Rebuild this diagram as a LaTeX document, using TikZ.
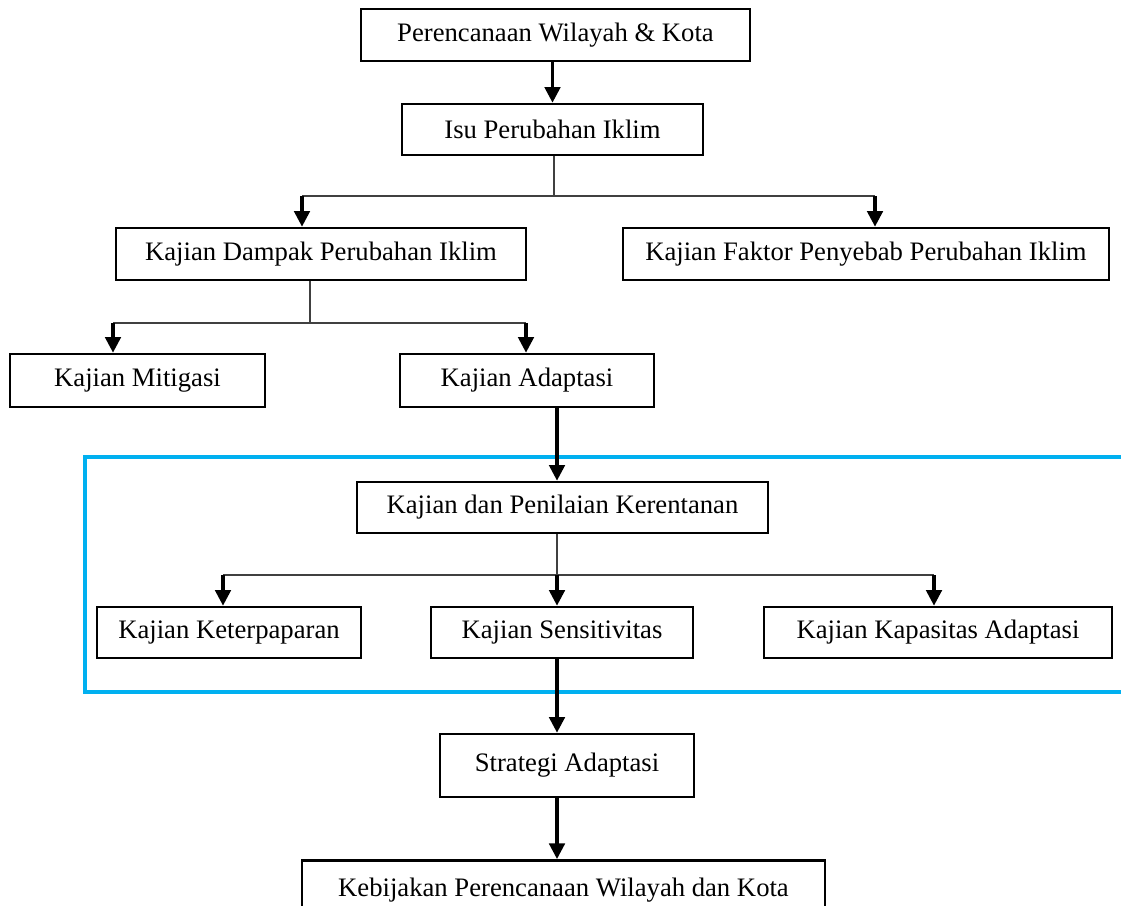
\documentclass[tikz,border=0pt]{standalone}
\usepackage{fontspec}
\setmainfont{Liberation Serif}
\usetikzlibrary{arrows.meta}
\definecolor{birumuda}{RGB}{0,176,240}
\tikzset{
	kotak/.style={draw, line width=1.2pt, inner sep=0pt, font=\fontsize{12}{14}\selectfont},
	ukuran/.style 2 args={minimum width={#1*0.45pt}, minimum height={#2*0.45pt}},
	panah/.style={line width=1.4pt, -{Triangle[length=7pt,width=7pt]}},
	cabang/.style={line width=0.5pt, draw=black!75},
}

\begin{document}
\begin{tikzpicture}[x=0.45pt, y=-0.45pt]
			%%%%% START %%%%%
			\useasboundingbox (0, 0) rectangle (1121, 906);
			
			% bingkai biru (kajian kerentanan)
			\draw[line width=1.4pt, color=birumuda] (1121, 457) -| (85, 692) -- (1121, 692);
			
			\node[kotak, ukuran={389}{52}] (wilkota) at (555.5, 35) {Perencanaan Wilayah \& Kota};
			\node[kotak, ukuran={301}{51}] (isu) at (552.5, 129.5) {Isu Perubahan Iklim};
			
			\node[kotak, ukuran={410}{52}] (dampak) at (321, 254) {Kajian Dampak Perubahan Iklim};
			\node[kotak, ukuran={486}{52}] (faktor) at (866, 254) {Kajian Faktor Penyebab Perubahan Iklim};
			
			\node[kotak, ukuran={255}{53}] (mitigasi) at (137.5, 380.5) {Kajian Mitigasi};
			\node[kotak, ukuran={254}{53}] (adaptasi) at (527, 380.5) {Kajian Adaptasi};
			
			\node[kotak, ukuran={411}{51}] (kerentanan) at (562.5, 507.5) {Kajian dan Penilaian Kerentanan};
			
			\node[kotak, ukuran={264}{51}] (paparan) at (229, 632.5) {Kajian Keterpaparan};
			\node[kotak, ukuran={262}{51}] (sensitif) at (562, 632.5) {Kajian Sensitivitas};
			\node[kotak, ukuran={348}{51}] (kapasitas) at (938, 632.5) {Kajian Kapasitas Adaptasi};
			
			\node[kotak, ukuran={254}{63}] (strategi) at (567, 765.5) {Strategi Adaptasi};
			\node[kotak, anchor=north, minimum width={523*0.45pt}, text height=16.2pt, text depth=10pt] (kebijakan) at (563.5, 859) {Kebijakan Perencanaan Wilayah dan Kota};
			
			% titik cabang
			\coordinate (c1) at (554, 196);
			\coordinate (c1a) at (302, 196);
			\coordinate (c1b) at (875, 196);
			\coordinate (c2) at (310, 323);
			\coordinate (c2a) at (113, 323);
			\coordinate (c2b) at (526, 323);
			\coordinate (c3) at (557, 575);
			\coordinate (c3a) at (223, 575);
			\coordinate (c3b) at (934, 575);
			
			\draw[panah] (isu.north |- wilkota.south) -- (isu.north);
			
			\draw[cabang] (c1 |- isu.south) -- (c1);
			\draw[cabang] (c1a) -- (c1b);
			\draw[panah] (c1a) -- (c1a |- dampak.north);
			\draw[panah] (c1b) -- (c1b |- faktor.north);
			
			\draw[cabang] (c2 |- dampak.south) -- (c2);
			\draw[cabang] (c2a) -- (c2b);
			\draw[panah] (c2a) -- (c2a |- mitigasi.north);
			\draw[panah] (c2b) -- (c2b |- adaptasi.north);
			
			\draw[panah] (c3 |- adaptasi.south) -- (c3 |- kerentanan.north);
			
			\draw[cabang] (c3 |- kerentanan.south) -- (c3);
			\draw[cabang] (c3a) -- (c3b);
			\draw[panah] (c3a) -- (c3a |- paparan.north);
			\draw[panah] (c3) -- (c3 |- sensitif.north);
			\draw[panah] (c3b) -- (c3b |- kapasitas.north);
			
			\draw[panah] (c3 |- sensitif.south) -- (c3 |- strategi.north);
			\draw[panah] (c3 |- strategi.south) -- (c3 |- kebijakan.north);
			%%%%% END %%%%%
\end{tikzpicture}
\end{document}
